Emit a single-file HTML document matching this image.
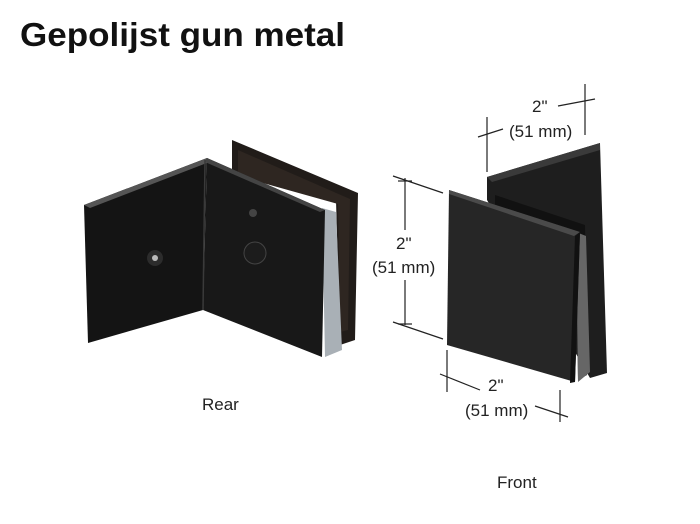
<!DOCTYPE html>
<html><head><meta charset="utf-8"><style>
html,body{margin:0;padding:0;background:#fff;width:700px;height:524px;overflow:hidden}
</style></head><body>
<svg width="700" height="524" viewBox="0 0 700 524" xmlns="http://www.w3.org/2000/svg">
<text x="20" y="46" font-family="Liberation Sans, sans-serif" font-weight="bold" font-size="33" textLength="325" lengthAdjust="spacingAndGlyphs" fill="#111">Gepolijst gun metal</text>

<!-- Rear piece -->
<polygon points="232,140 358,193 355,340 340,345 336,200 232,175" fill="#211c19"/>
<polygon points="238,150 350,199 348,330 340,332 338,204 238,176" fill="#2e2621"/>
<polygon points="322,208 336,212 342,350 325,357" fill="#a9b0b6"/>
<polygon points="84,205 207,158 203,310 88,343" fill="#141414"/>
<polygon points="207,158 325,210 322,357 203,310" fill="#181818"/>
<polygon points="84,205 207,158 212,161 90,208" fill="#555"/>
<polygon points="207,158 325,210 320,212 205,162" fill="#444"/>
<line x1="205" y1="160" x2="203" y2="310" stroke="#3a3a3a" stroke-width="1.5"/>
<circle cx="155" cy="258" r="8" fill="#2c2c2c"/>
<circle cx="155" cy="258" r="3" fill="#bbb"/>
<circle cx="255" cy="253" r="11" fill="#1c1c1c" stroke="#444"/>
<circle cx="253" cy="213" r="4" fill="#444"/>
<text x="202" y="410" font-family="Liberation Sans, sans-serif" font-size="17" fill="#222">Rear</text>

<!-- Front piece -->
<polygon points="487,177 600,143 607,373 590,378 487,200" fill="#1e1e1e"/>
<polygon points="487,177 600,143 600,150 492,182" fill="#3a3a3a"/>
<polygon points="495,195 585,225 587,375 578,380 576,235 495,205" fill="#111"/>
<polygon points="576,232 586,236 590,372 578,382" fill="#666"/>
<polygon points="449,190 580,232 575,382 447,345" fill="#262626"/>
<polygon points="449,190 580,232 574,236 449,194" fill="#4a4a4a"/>
<polygon points="575,236 580,232 575,382 570,383" fill="#111"/>

<!-- Dimensions -->
<g stroke="#222" stroke-width="1.2" fill="none">
<line x1="405" y1="178" x2="405" y2="230"/>
<line x1="405" y1="280" x2="405" y2="325"/>
<line x1="393" y1="176" x2="443" y2="193"/>
<line x1="393" y1="322" x2="443" y2="339"/>
<line x1="398" y1="181" x2="412" y2="181"/>
<line x1="398" y1="324" x2="412" y2="324"/>
<line x1="487" y1="117" x2="487" y2="172"/>
<line x1="478" y1="137" x2="503" y2="129"/>
<line x1="585" y1="84" x2="585" y2="135"/>
<line x1="558" y1="106" x2="595" y2="99"/>
<line x1="447" y1="350" x2="447" y2="392"/>
<line x1="440" y1="374" x2="480" y2="390"/>
<line x1="560" y1="390" x2="560" y2="422"/>
<line x1="535" y1="406" x2="568" y2="417"/>
</g>
<g font-family="Liberation Sans, sans-serif" font-size="17" fill="#222">
<text x="396" y="249">2"</text>
<text x="372" y="273">(51 mm)</text>
<text x="532" y="112">2"</text>
<text x="509" y="137">(51 mm)</text>
<text x="488" y="391">2"</text>
<text x="465" y="416">(51 mm)</text>
<text x="497" y="488">Front</text>
</g>
</svg>
</body></html>
